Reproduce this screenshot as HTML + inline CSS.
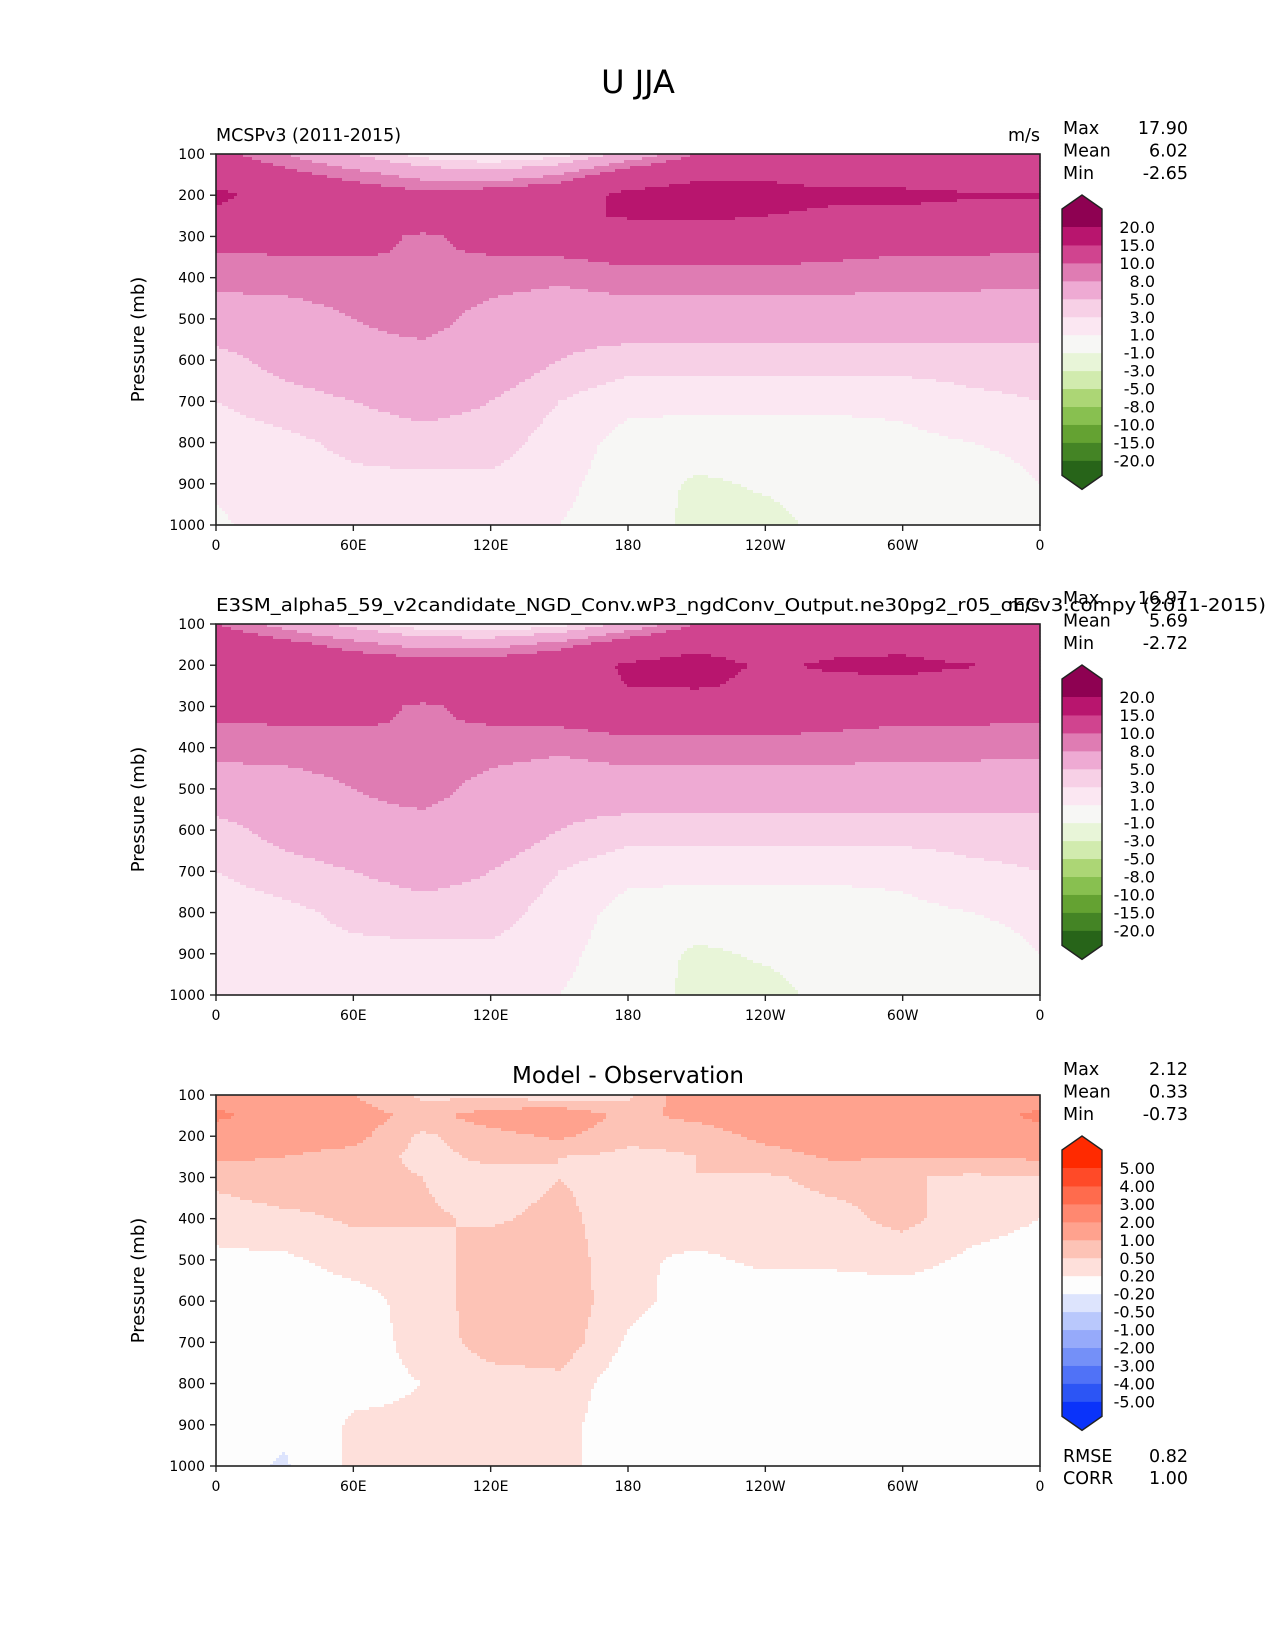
<!DOCTYPE html>
<html><head><meta charset="utf-8"><style>
html,body{margin:0;padding:0;background:#fff}
svg{display:block;font-family:"DejaVu Sans","Liberation Sans",sans-serif}
</style></head><body>
<svg id="fig" width="1275" height="1650" viewBox="0 0 1275 1650" xmlns="http://www.w3.org/2000/svg">
<text x="638" y="93" font-size="32" text-anchor="middle">U JJA</text>
<g id="p1"></g>
<g id="p2"></g>
<g id="p3"></g>
</svg>
<script>
const pressures=[100,150,200,250,300,400,500,600,700,800,900,1000];
const lons=[0,30,60,90,120,150,180,210,240,270,300,330,360];
const xTickLons=[0,60,120,180,240,300,360];
const xTickLabels=['0','60E','120E','180','120W','60W','0'];
const yTicks=[100,200,300,400,500,600,700,800,900,1000];
const obsU=[
[11,8,5,2,1,2,6,10,11,11,11,11,10],
[13,11,9,7,6,8,12,14,14,13,13,12,12],
[16,13,12,11,12,13,16,17,17,16,16,15.5,15.5],
[14,13,13,12,12,14,15.5,16,15,14,14,13,13],
[11,11,11,9.6,10.8,11.5,12,12,12,11.5,11,11,11],
[8.5,8.8,9,10,9,8.5,9.2,9.2,9.2,9,8.8,8.8,8.5],
[7,7,8,9,7,6,6.5,6.5,6.5,6.5,6.5,6.3,6.5],
[4,6,7,7,7,5,4,4,4,4,4,4,4],
[3,4,5,6,5,3,1.5,1.5,1.5,1.5,1.5,2.5,3],
[2,2.5,3.5,4,4,2,0.3,0,0,0,0.5,1,1.5],
[1.5,2,2.5,2.5,2.5,1.5,0,-1.3,-0.8,-0.5,-0.5,0,1],
[0.5,2.5,1.5,1.5,1.5,1,0,-1.5,-1.5,-0.5,-0.5,0,0.5]];
const modelU=[
[10,7,4,1.5,1,2,6,10,11,11,11,11,10],
[13,11,9,7,7,9,12,14,13,14,14,12,12],
[13,13,12,12,12,13,15.5,16.5,14.5,15.5,16,15.2,13],
[14,13,13,12,12,13.5,15,15.5,14,14,14,13,13],
[11,11,11,9.6,10.8,11.5,12,12,12,11.5,11,11,11],
[8.5,8.8,9,10,9,8.5,9.2,9.2,9.2,9,8.8,8.8,8.5],
[7,7,8,9,7,6,6.5,6.5,6.5,6.5,6.5,6.3,6.5],
[4,6,7,7,7,5,4,4,4,4,4,4,4],
[3,4,5,6,5,3,1.5,1.5,1.5,1.5,1.5,2.5,3],
[2,2.5,3.5,4,4,2,0.3,0,0,0,0.5,1,1.5],
[1.5,2.5,2.5,2.5,2.5,1.5,0,-1.3,-0.8,-0.5,-0.5,0,1],
[1,3,1.5,1.5,1.5,1,0,-1.5,-1.5,-0.5,-0.5,0,0.5]];
const diffU=[
[1.5,1.6,1.0,0.4,0.3,0.2,0.4,1.5,1.5,1.5,1.5,1.5,1.5],
[2.2,1.5,1.3,0.8,1.3,1.5,0.8,1.2,1.6,1.7,1.7,1.6,2.2],
[1.5,1.3,1.2,0.4,0.8,1.1,0.6,0.6,1.2,1.5,1.5,1.3,1.6],
[1.1,1.0,0.8,0.35,0.6,0.5,0.4,0.5,0.7,1.1,1.0,1.0,1.1],
[0.6,0.8,0.7,0.5,0.3,0.5,0.35,0.5,0.45,0.6,0.55,0.4,0.5],
[0.3,0.4,0.55,0.55,0.45,0.6,0.3,0.35,0.35,0.4,0.6,0.3,0.2],
[0.15,0.15,0.3,0.3,0.7,0.7,0.25,0.15,0.25,0.25,0.3,0.15,0.1],
[0.05,0.05,0.1,0.3,0.7,0.7,0.3,0.05,0.05,0.05,0.05,0.05,0.05],
[0,0,0.05,0.3,0.65,0.7,0.15,0,0,0,0,0,0],
[0,0,0.1,0.2,0.35,0.4,0,0,0,0,0,0,0],
[0,-0.1,0.25,0.25,0.3,0.3,0,0,-0.1,0,0,0,0],
[0,-0.25,0.3,0.3,0.3,0.3,0,0,0,0,0,0,0]];
const pinkLevels=[-20,-15,-10,-8,-5,-3,-1,1,3,5,8,10,15,20];
const pinkLabels=['-20.0','-15.0','-10.0','-8.0','-5.0','-3.0','-1.0','1.0','3.0','5.0','8.0','10.0','15.0','20.0'];
const pinkColors=['#276419','#448425','#64a232','#88c050','#acd675','#d1ebae','#e8f5d8','#f7f7f5','#fbe7f2','#f7d0e6','#eeaad3','#df7cb3','#d0448f','#b8156e','#8e0152'];
const diffLevels=[-5,-4,-3,-2,-1,-0.5,-0.2,0.2,0.5,1,2,3,4,5];
const diffLabels=['-5.00','-4.00','-3.00','-2.00','-1.00','-0.50','-0.20','0.20','0.50','1.00','2.00','3.00','4.00','5.00'];
const diffColors=['#0a33fa','#2c55f5','#5072f7','#7490f8','#96aafa','#b9c8fc','#dde4fd','#fdfdfd','#fee0db','#fdc3b6','#ffa28e','#ff8870','#ff6b4d','#ff4a28','#ff2a00'];
const stats1=['17.90','6.02','-2.65'];
const stats2=['16.97','5.69','-2.72'];
const stats3=['2.12','0.33','-0.73'];
const NS='http://www.w3.org/2000/svg';
function el(tag,attrs,parent,text){const e=document.createElementNS(NS,tag);for(const k in attrs)e.setAttribute(k,attrs[k]);if(text!==undefined)e.textContent=text;parent.appendChild(e);return e;}
const X0=216,X1=1040;
function xs(lon){return X0+lon/360*(X1-X0);}
function interp(grid,lon,p){
  let i=0;while(i<lons.length-2&&lon>lons[i+1])i++;
  let j=0;while(j<pressures.length-2&&p>pressures[j+1])j++;
  const tx=(lon-lons[i])/(lons[i+1]-lons[i]),ty=(p-pressures[j])/(pressures[j+1]-pressures[j]);
  const a=grid[j][i]*(1-tx)+grid[j][i+1]*tx,b=grid[j+1][i]*(1-tx)+grid[j+1][i+1]*tx;
  return a*(1-ty)+b*ty;}
function cls(v,levels){let k=0;while(k<levels.length&&v>=levels[k])k++;return k;}
function panel(g,top,grid,levels,colors,labels,stats,subL,subR,center,extra){
  const Y0=top,Y1=top+371;
  const ys=p=>Y0+(p-100)/900*(Y1-Y0);
  const cg=el('g',{},g);
  
  
  const step=3;
  function flush(x0,x1,y,c){
    const r=el('rect',{x:x0,y:y,width:x1-x0+0.6,height:Math.min(step,Y1-y)+0.6,fill:colors[c]},cg);
    
    }
  for(let y=Y0;y<Y1;y+=step){
    const p=Math.min(1000,100+(y+step/2-Y0)/(Y1-Y0)*900);
    let runStart=X0,runC=-1;
    for(let x=X0;x<X1;x+=step){
      const lon=Math.min(360,(x+step/2-X0)/(X1-X0)*360);
      const c=cls(interp(grid,lon,p),levels);
      if(c!==runC){
        if(runC>=0)flush(runStart,x,y,runC);
        runStart=x;runC=c;}
    }
    if(runC>=0)flush(runStart,X1,y,runC);
  }
  const fr=el('rect',{x:X0,y:Y0,width:X1-X0,height:Y1-Y0,fill:'none',stroke:'#222','stroke-width':1.6},g);
  
  
  yTicks.forEach(p=>{const y=ys(p);el('line',{x1:X0-6,x2:X0,y1:y,y2:y,stroke:'#222','stroke-width':1.4},g);
    const t=el('text',{x:X0-11,y:y+5,'font-size':14,'text-anchor':'end'},g,String(p));
    
    });
  xTickLons.forEach((l,i)=>{const x=xs(l);el('line',{x1:x,x2:x,y1:Y1,y2:Y1+6,stroke:'#222','stroke-width':1.4},g);
    const t=el('text',{x:x,y:Y1+25,'font-size':14,'text-anchor':'middle'},g,xTickLabels[i]);
    
    });
  const yl=el('text',{x:0,y:0,'font-size':18,'text-anchor':'middle',transform:`translate(144,${(Y0+Y1)/2}) rotate(-90)`},g,'Pressure (mb)');
  
  
  if(subL){const t=el('text',Object.assign({x:X0,y:top-13,'font-size':17.5},extra||{}),g,subL);
    
    }
  if(subR){const t=el('text',{x:X1,y:top-13,'font-size':17.5,'text-anchor':'end'},g,subR);
    
    }
  if(center){const t=el('text',{x:(X0+X1)/2,y:top-12,'font-size':23,'text-anchor':'middle'},g,center);
    
    }
  ['Max','Mean','Min'].forEach((s,i)=>{const yy=top-20+i*22.5;
    const a=el('text',{x:1063,y:yy,'font-size':17.5},g,s);
    
    
    const b=el('text',{x:1188,y:yy,'font-size':17.5,'text-anchor':'end'},g,stats[i]);
    
    });
  const cb=el('g',{},g);
  
  
  const L=1062,R=1102,C=(L+R)/2,T=top+73,bh=17.95,nb=levels.length-1;
  const bot=T+nb*bh;
  const up=el('polygon',{points:`${L},${T} ${L},${T-18} ${C},${T-32} ${R},${T-18} ${R},${T}`,fill:colors[colors.length-1]},cb);
  
  
  const dn=el('polygon',{points:`${L},${bot} ${L},${bot+15} ${C},${bot+29} ${R},${bot+15} ${R},${bot}`,fill:colors[0]},cb);
  
  
  for(let k=0;k<nb;k++){
    const yb=T+(nb-1-k)*bh;
    const r=el('rect',{x:L,y:yb,width:R-L,height:bh+0.5,fill:colors[k+1]},cb);
    
    }
  el('polygon',{points:`${L},${T-18} ${C},${T-32} ${R},${T-18} ${R},${bot+15} ${C},${bot+29} ${L},${bot+15}`,fill:'none',stroke:'#222','stroke-width':1.4},cb);
  levels.forEach((lv,k)=>{const yb=T+(nb-k)*bh;
    const t=el('text',{x:1155,y:yb+6,'font-size':16,'text-anchor':'end'},cb,labels[k]);
    
    });
}
panel(document.getElementById('p1'),154,obsU,pinkLevels,pinkColors,pinkLabels,stats1,'MCSPv3 (2011-2015)','m/s',null);
panel(document.getElementById('p2'),624,modelU,pinkLevels,pinkColors,pinkLabels,stats2,'E3SM_alpha5_59_v2candidate_NGD_Conv.wP3_ngdConv_Output.ne30pg2_r05_oECv3.compy (2011-2015)','m/s',null,{textLength:1050,lengthAdjust:'spacingAndGlyphs'});
panel(document.getElementById('p3'),1095,diffU,diffLevels,diffColors,diffLabels,stats3,null,null,'Model - Observation');
const g3=document.getElementById('p3');
[['RMSE','0.82',1462],['CORR','1.00',1484]].forEach(r=>{
  const a=el('text',{x:1063,y:r[2],'font-size':17.5},g3,r[0]);
  
  
  const b=el('text',{x:1188,y:r[2],'font-size':17.5,'text-anchor':'end'},g3,r[1]);
  
  });
</script>
</body></html>
